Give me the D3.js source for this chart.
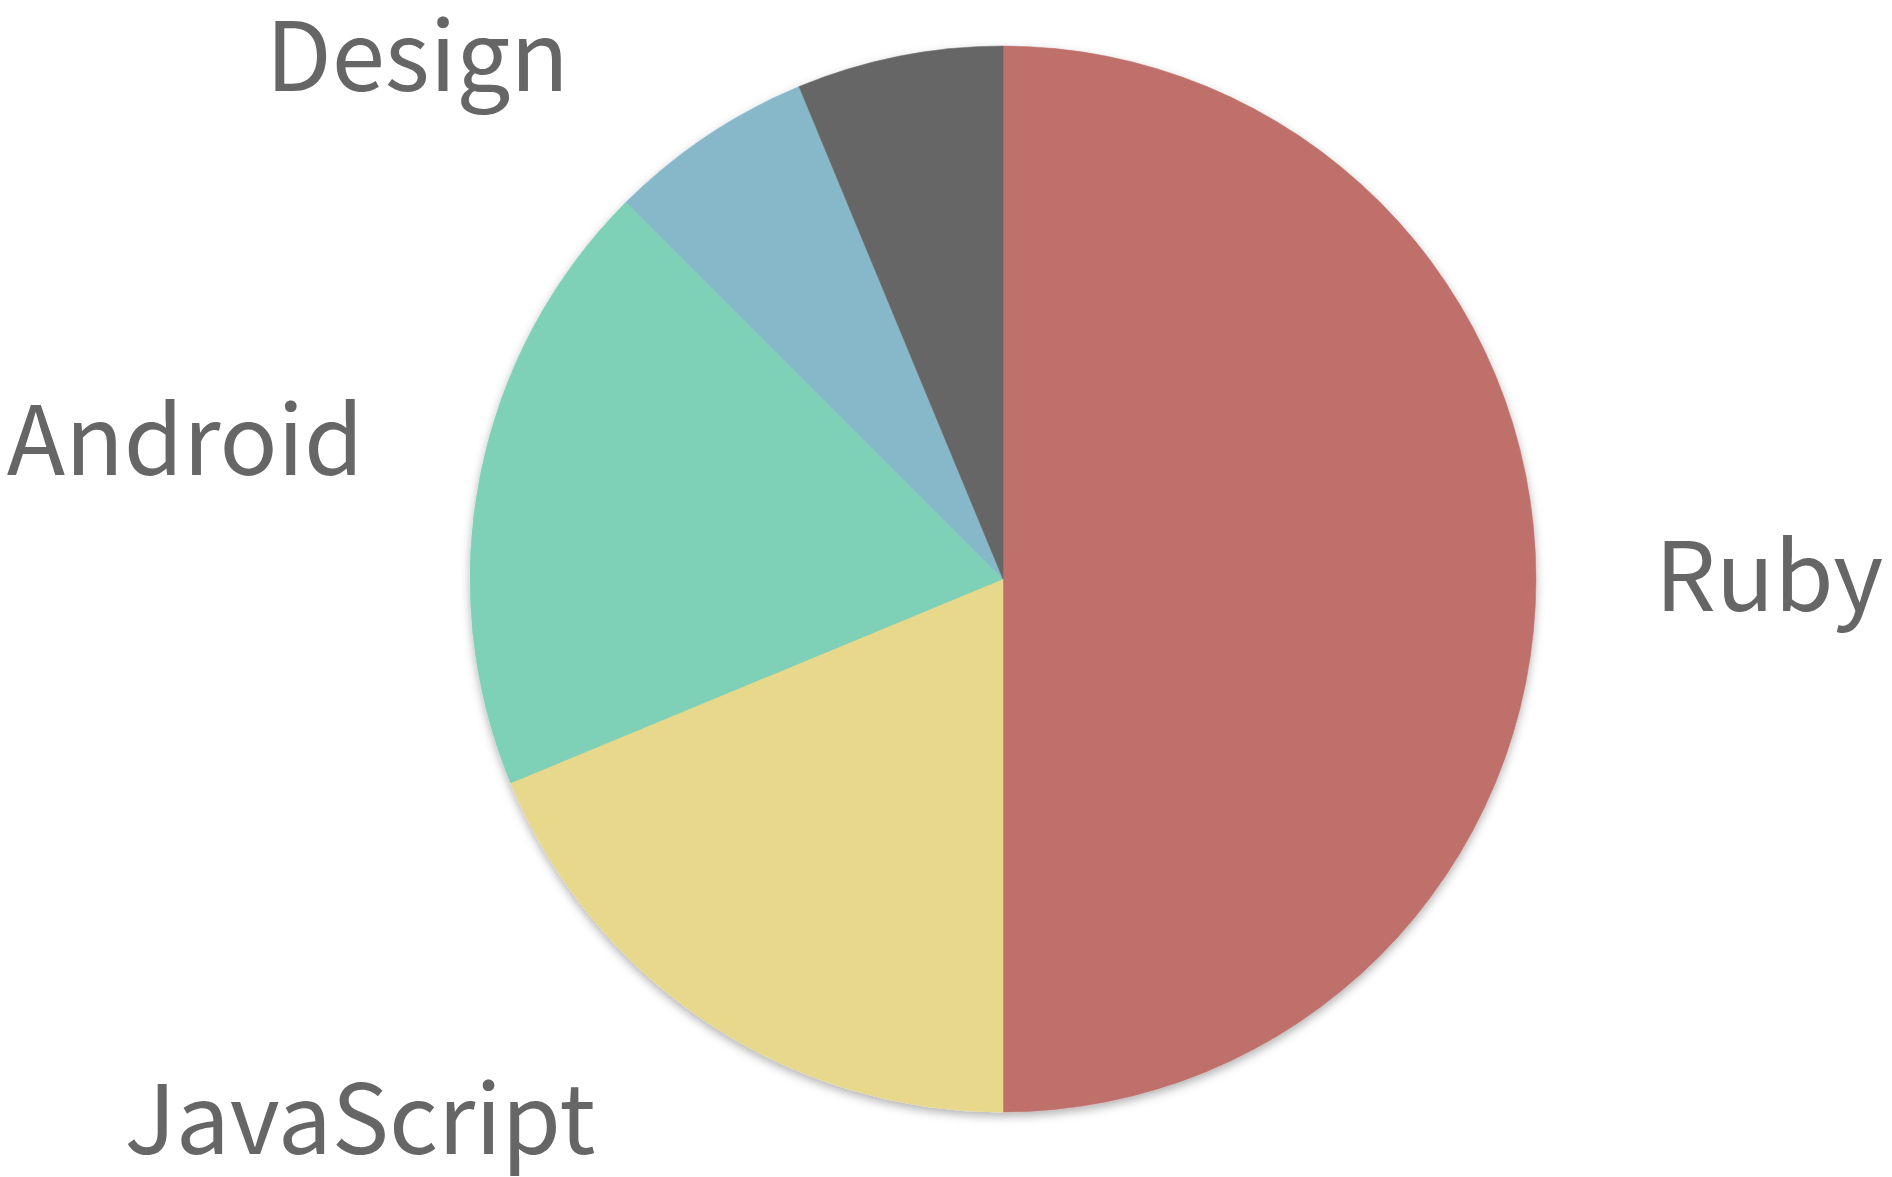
<!DOCTYPE html>
<html>
<head>
<meta charset="utf-8">
<script src="https://cdn.jsdelivr.net/npm/d3@7"></script>
<style>
  body { margin: 0; background: #fff; }
  svg { display: block; }
</style>
</head>
<body>
<div id="chart"></div>
<script>
// Slices in drawing order, clockwise from 12 o'clock.
// The blue slice shows no label in the picture.
const categories = ["Ruby", "JavaScript", "Android", "", "Design"];
const values = [8, 3, 3, 1, 1];
const colors = ["#bf6f6b", "#e8d88b", "#7ed0b6", "#86b8c9", "#666666"];

const width = 1892;
const height = 1177;
const cx = 1003, cy = 579;
const radius = 533;

const fontSize = 96;
const capHeight = fontSize * 0.733;
const descent = fontSize * 0.24;
// labels ride on an ellipse around the pie
const labelRx = 652, labelRy = 696;
const edgePad = 21;

const svg = d3.select("#chart")
  .append("svg")
  .attr("width", width)
  .attr("height", height);

// soft drop shadow under the whole pie
const shadow = svg.append("defs").append("filter")
  .attr("id", "pie-shadow")
  .attr("x", "-10%").attr("y", "-10%")
  .attr("width", "120%").attr("height", "120%");
shadow.append("feDropShadow")
  .attr("dx", 0)
  .attr("dy", 4)
  .attr("stdDeviation", 5)
  .attr("flood-color", "#000")
  .attr("flood-opacity", 0.3);

const g = svg.append("g")
  .attr("transform", "translate(" + cx + "," + cy + ")");

const pie = d3.pie().sort(null).value(d => d);
const arcs = pie(values);
const arc = d3.arc().innerRadius(0).outerRadius(radius);

g.append("g")
  .attr("filter", "url(#pie-shadow)")
  .selectAll("path")
  .data(arcs)
  .enter()
  .append("path")
    .attr("d", arc)
    .attr("fill", (d, i) => colors[i])
    .attr("stroke", (d, i) => colors[i])
    .attr("stroke-width", 0.5);

// Each label starts at its slice's mid angle; if it would run off the page
// it is pulled back inside vertically and slid along the ellipse.
const baseShift = capHeight * 0.45;
const minY = -cy + edgePad + capHeight - baseShift;
const maxY = height - cy - descent - baseShift;

g.append("g")
  .selectAll("text")
  .data(arcs.filter(d => categories[d.index] !== ""))
  .enter()
  .append("text")
    .each(function(d) {
      const a = (d.startAngle + d.endAngle) / 2;
      let y = -labelRy * Math.cos(a);
      y = Math.max(minY, Math.min(maxY, y));
      const side = Math.sin(a) >= 0 ? 1 : -1;
      const x = side * labelRx * Math.sqrt(1 - (y / labelRy) * (y / labelRy));
      d3.select(this)
        .attr("x", x)
        .attr("y", y + baseShift)
        .attr("text-anchor", side > 0 ? "start" : "end");
    })
    .attr("font-family", "'Noto Sans CJK JP', 'Noto Sans', sans-serif")
    .attr("font-size", fontSize)
    .attr("fill", "#666")
    .text(d => categories[d.index]);
</script>
</body>
</html>
